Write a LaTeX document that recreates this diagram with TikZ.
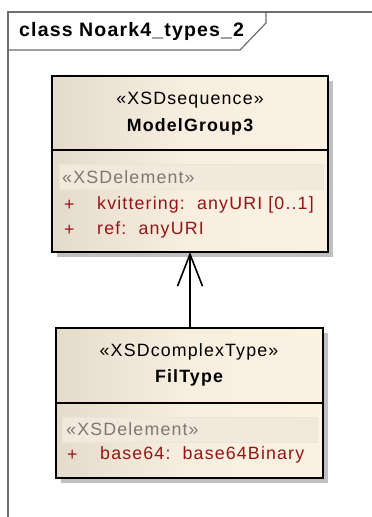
\documentclass[tikz,border=0pt]{standalone}
\usepackage{fontspec}
\setmainfont{Liberation Sans}
\newfontfamily\boxfont[LetterSpace=6.5]{Liberation Sans}
\newfontfamily\titlefont[LetterSpace=6]{Liberation Sans}
\usetikzlibrary{arrows.meta,shadings}
\definecolor{fillL}{RGB}{228,219,205}
\definecolor{fillR}{RGB}{251,241,227}
\definecolor{bandfill}{RGB}{242,233,221}
\definecolor{bandline}{RGB}{236,228,218}
\definecolor{bandtext}{RGB}{125,120,112}
\definecolor{attr}{RGB}{150,20,20}
\definecolor{framegray}{RGB}{110,110,110}
\definecolor{shade}{RGB}{192,192,192}
\tikzset{
  classbox/.style={draw=black,line width=1.6pt,left color=fillL,right color=fillR,middle color=fillR!90!fillL},
  shadowbox/.style={fill=shade,draw=none},
  band/.style={fill=bandfill,draw=bandline,line width=0.8pt},
  stereo/.style={font=\boxfont\fontsize{17.8}{19}\selectfont,text=black,inner sep=0pt,anchor=center},
  cname/.style={font=\boxfont\fontsize{17.8}{19}\selectfont\bfseries,text=black,inner sep=0pt,anchor=center},
  bandlabel/.style={font=\boxfont\fontsize{17.8}{19}\selectfont,text=bandtext,inner sep=0pt,anchor=west},
  attrtext/.style={font=\boxfont\fontsize{17.8}{19}\selectfont,text=attr,inner sep=0pt,anchor=west},
  genarrow/.style={line width=1.6pt,-{Straight Barb[length=32pt,width=25pt,line width=1.6pt]}},
}
\begin{document}
\begin{tikzpicture}[x=1pt,y=-1pt]
\useasboundingbox (0,0) rectangle (372,517);
\fill[white] (0,0) rectangle (372,517);
% frame
\draw[framegray,line width=1.2pt] (8,517) -- (8,12) -- (372,12);
\draw[framegray,line width=1.2pt] (8,50) -- (240,50) -- (266,23) -- (266,12);
\node[font=\titlefont\fontsize{19.5}{21}\selectfont\bfseries,anchor=west,inner sep=0pt] (title) at (19,31) {class Noark4\_types\_2};
% top class
\fill[shadowbox] (57,81) rectangle (333,257);
\draw[classbox] (51.7,75.7) rectangle (328,252);
\draw[line width=1.6pt] (51.7,150) -- (328,150);
\draw[band] (59,164) rectangle (323,189);
\node[stereo] (s1) at (190,100) {«XSDsequence»};
\node[cname] (n1) at (190,127) {ModelGroup3};
\node[bandlabel] (b1) at (62,177) {«XSDelement»};
\node[attrtext] (p1) at (64,205) {+};
\node[attrtext] (a1) at (97,205) {kvittering:\ \ anyURI [0..1]};
\node[attrtext] (p2) at (64,230) {+};
\node[attrtext] (a2) at (97,230) {ref:\ \ anyURI};
\coordinate (topbot) at (190,252);
% bottom class
\fill[shadowbox] (61,333) rectangle (328,483);
\draw[classbox] (55.7,328) rectangle (322.7,478);
\draw[line width=1.6pt] (55.7,403) -- (322.7,403);
\draw[band] (62,417) rectangle (317,442);
\node[stereo] (s2) at (189,352) {«XSDcomplexType»};
\node[cname] (n2) at (189,378) {FilType};
\node[bandlabel] (b2) at (66,429) {«XSDelement»};
\node[attrtext] (p3) at (67,455) {+};
\node[attrtext] (a3) at (100,455) {base64:\ \ base64Binary};
\coordinate (bottop) at (190,328);
% generalization
\draw[genarrow] (bottop) -- (topbot);
\end{tikzpicture}
\end{document}
